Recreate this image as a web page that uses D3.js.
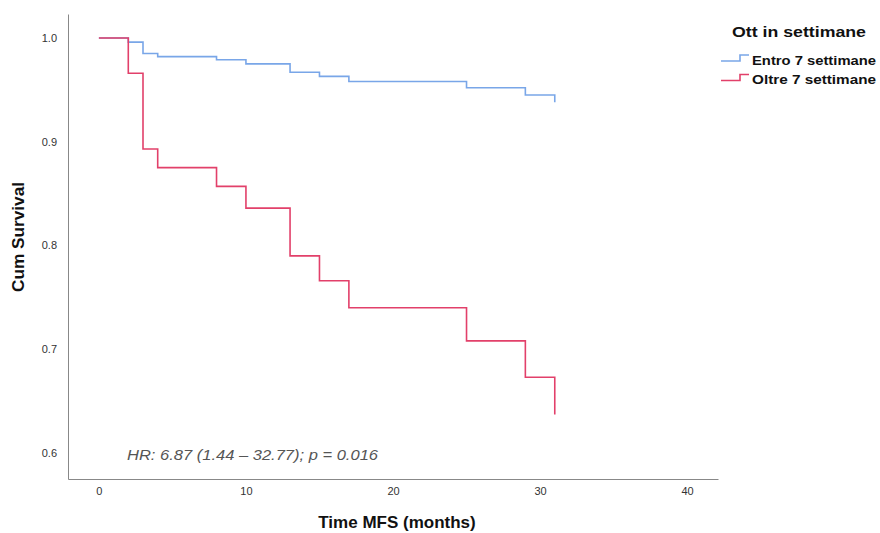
<!DOCTYPE html>
<html>
<head>
<meta charset="utf-8">
<script src="https://cdn.jsdelivr.net/npm/d3@7"></script>
<style>
  body { margin: 0; background: #fff; }
  text { font-family: "Liberation Sans", Arial, sans-serif; }
</style>
</head>
<body>
<div id="chart"></div>
<script>
// dimensions de la page
const width = 880, height = 533;

// données (Kaplan-Meier)
const groups = ["Entro 7 settimane", "Oltre 7 settimane"];
const colors = ["#79a6e8", "#e2406a"];
const timesEntro = [0, 2, 3, 4, 8, 10, 13, 15, 17, 25, 29, 31];
const survEntro = [1.0, 0.996, 0.985, 0.982, 0.979, 0.975, 0.967, 0.963, 0.958, 0.952, 0.945, 0.938];
const timesOltre = [0, 2, 3, 4, 8, 10, 13, 15, 17, 25, 29, 31];
const survOltre = [1.0, 0.966, 0.893, 0.875, 0.857, 0.836, 0.790, 0.766, 0.740, 0.708, 0.673, 0.637];
const xTicks = [0, 10, 20, 30, 40];
const yTicks = [0.6, 0.7, 0.8, 0.9, 1.0];

// échelles
const x = d3.scaleLinear().domain([-2.1, 42.1]).range([68, 718]);
const y = d3.scaleLinear().domain([0.5749, 1.0231]).range([479, 14]);

const svg = d3.select("#chart").append("svg")
    .attr("width", width)
    .attr("height", height);

// axes (SPSS : pas de graduations, juste les étiquettes)
const xAxis = svg.append("g")
    .attr("transform", "translate(0,479)")
    .call(d3.axisBottom(x).tickValues(xTicks).tickSize(0).tickPadding(8).tickFormat(d3.format("d")));
xAxis.select(".domain").attr("stroke", "#888");
xAxis.selectAll("text").attr("font-size", 11).attr("fill", "#333")
    .attr("font-family", "Liberation Sans, Arial, sans-serif");

const yAxis = svg.append("g")
    .attr("transform", "translate(68,0)")
    .call(d3.axisLeft(y).tickValues(yTicks).tickSize(0).tickPadding(11).tickFormat(d3.format(".1f")));
yAxis.select(".domain").attr("stroke", "#888");
yAxis.selectAll("text").attr("font-size", 11).attr("fill", "#333")
    .attr("font-family", "Liberation Sans, Arial, sans-serif");

// titres des axes
svg.append("text")
    .attr("x", 397).attr("y", 528)
    .attr("text-anchor", "middle")
    .attr("font-size", 17).attr("font-weight", "bold").attr("fill", "#111")
    .text("Time MFS (months)");

svg.append("text")
    .attr("transform", "translate(24,237) rotate(-90)")
    .attr("text-anchor", "middle")
    .attr("font-size", 17).attr("font-weight", "bold").attr("fill", "#111")
    .attr("textLength", 110).attr("lengthAdjust", "spacingAndGlyphs")
    .text("Cum Survival");

// courbes en escalier
const line = d3.line()
    .x(d => x(d[0]))
    .y(d => y(d[1]))
    .curve(d3.curveStepAfter);

const series = [
    timesEntro.map((t, i) => [t, survEntro[i]]),
    timesOltre.map((t, i) => [t, survOltre[i]])
];

svg.selectAll("path.km")
    .data(series)
    .enter()
    .append("path")
    .attr("class", "km")
    .attr("d", line)
    .attr("fill", "none")
    .attr("stroke", (d, i) => colors[i])
    .attr("stroke-width", 1.6);

// annotation
svg.append("text")
    .attr("x", 127).attr("y", 460)
    .attr("font-size", 15).attr("font-style", "italic").attr("fill", "#555")
    .attr("textLength", 251).attr("lengthAdjust", "spacingAndGlyphs")
    .text("HR: 6.87 (1.44 \u2013 32.77); p = 0.016");

// légende
const legend = svg.append("g");
legend.append("text")
    .attr("x", 732).attr("y", 37)
    .attr("font-size", 15.5).attr("font-weight", "bold").attr("fill", "#111")
    .attr("textLength", 134).attr("lengthAdjust", "spacingAndGlyphs")
    .text("Ott in settimane");

const item = legend.selectAll("g.item")
    .data(groups)
    .enter()
    .append("g")
    .attr("class", "item")
    .attr("transform", (d, i) => `translate(0,${i * 19.5})`);

item.append("path")
    .attr("d", "M721,61H740V55H749")
    .attr("fill", "none")
    .attr("stroke", (d, i) => colors[i])
    .attr("stroke-width", 1.6);

item.append("text")
    .attr("x", 752).attr("y", 64.5)
    .attr("font-size", 13.5).attr("font-weight", "bold").attr("fill", "#111")
    .attr("textLength", 124).attr("lengthAdjust", "spacingAndGlyphs")
    .text(d => d);
</script>
</body>
</html>
